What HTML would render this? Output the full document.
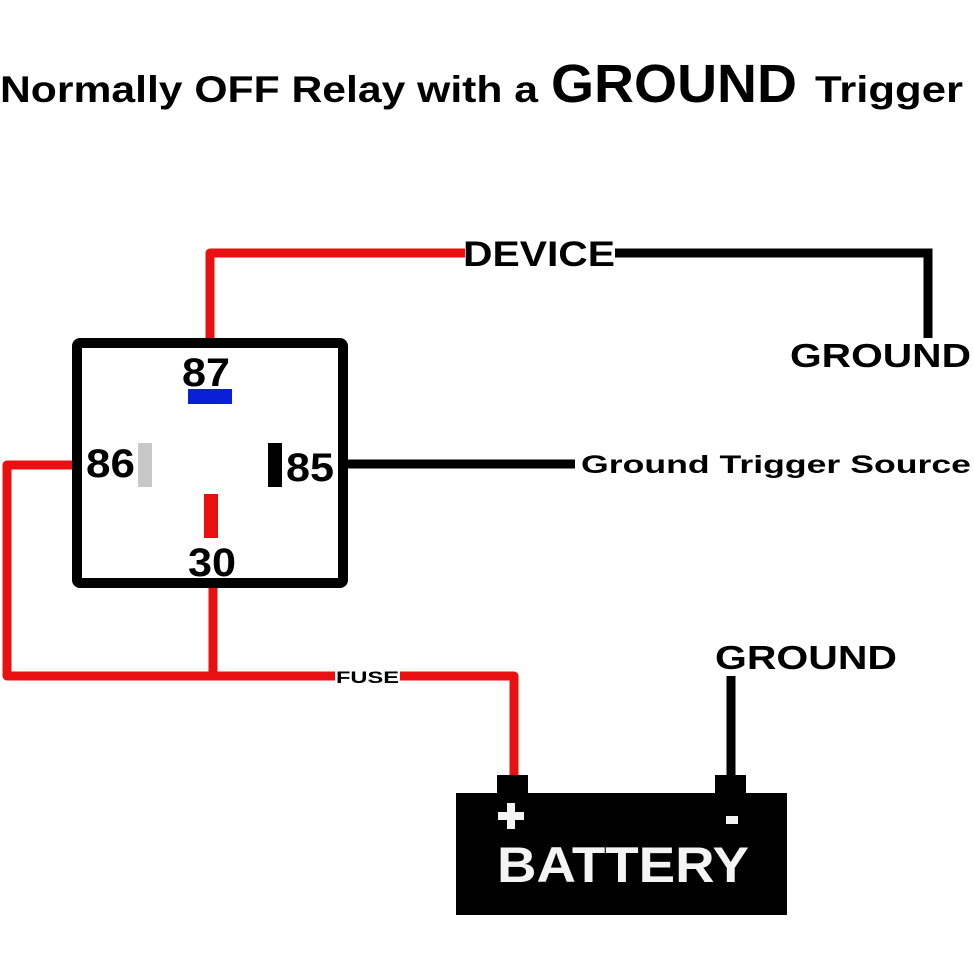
<!DOCTYPE html>
<html><head><style>
body{margin:0;background:#fff;width:974px;height:974px;overflow:hidden}
svg{display:block}
text{font-family:"Liberation Sans",sans-serif;font-weight:bold}
</style></head><body>
<svg width="974" height="974" viewBox="0 0 974 974">
<text x="0" y="102" font-size="37" textLength="538" lengthAdjust="spacingAndGlyphs">Normally OFF Relay with a</text>
<text x="551" y="102" font-size="54" textLength="246" lengthAdjust="spacingAndGlyphs">GROUND</text>
<text x="815" y="102" font-size="37" textLength="148" lengthAdjust="spacingAndGlyphs">Trigger</text>
<g fill="none" stroke="#e81010" stroke-width="9" stroke-linejoin="round">
<polyline points="210,340 210,253 465,253"/>
<polyline points="72,465 7,465 7,676 335,676"/>
<polyline points="213,588 213,676"/>
<polyline points="400,676 514,676 514,778"/>
</g>
<g fill="none" stroke="#000" stroke-width="9">
<polyline points="615,253 928,253 928,338"/>
<line x1="348" y1="464" x2="575" y2="464"/>
<line x1="731" y1="676" x2="731" y2="778"/>
</g>
<rect x="77" y="343" width="266" height="240" fill="none" stroke="#000" stroke-width="10" rx="3"/>
<text x="463" y="266" font-size="35" textLength="152" lengthAdjust="spacingAndGlyphs">DEVICE</text>
<text x="790" y="367" font-size="33" textLength="181" lengthAdjust="spacingAndGlyphs">GROUND</text>
<text x="581" y="473" font-size="25" textLength="390" lengthAdjust="spacingAndGlyphs">Ground Trigger Source</text>
<text x="715" y="669" font-size="33" textLength="182" lengthAdjust="spacingAndGlyphs">GROUND</text>
<text x="336" y="683" font-size="17" textLength="63" lengthAdjust="spacingAndGlyphs">FUSE</text>
<text x="182" y="386" font-size="40" textLength="48" lengthAdjust="spacingAndGlyphs">87</text>
<rect x="188" y="389" width="44" height="15" fill="#0a1fd8"/>
<text x="86" y="477" font-size="40" textLength="49" lengthAdjust="spacingAndGlyphs">86</text>
<rect x="138" y="443" width="14" height="44" fill="#c8c8c8"/>
<rect x="268" y="443" width="14" height="44" fill="#000"/>
<text x="286" y="481" font-size="40" textLength="48" lengthAdjust="spacingAndGlyphs">85</text>
<rect x="204" y="494" width="14" height="44" fill="#e81010"/>
<text x="188" y="576" font-size="40" textLength="48" lengthAdjust="spacingAndGlyphs">30</text>
<rect x="497" y="775" width="31" height="22" fill="#000"/>
<rect x="715" y="775" width="31" height="22" fill="#000"/>
<rect x="456" y="793" width="331" height="122" fill="#000"/>
<rect x="498" y="812" width="26" height="8" fill="#f4f4f4"/>
<rect x="507" y="803" width="8" height="26" fill="#f4f4f4"/>
<rect x="726" y="816" width="12" height="8" fill="#f4f4f4"/>
<text x="497" y="882" font-size="50" fill="#f4f4f4" textLength="252" lengthAdjust="spacingAndGlyphs">BATTERY</text>
</svg>
</body></html>
